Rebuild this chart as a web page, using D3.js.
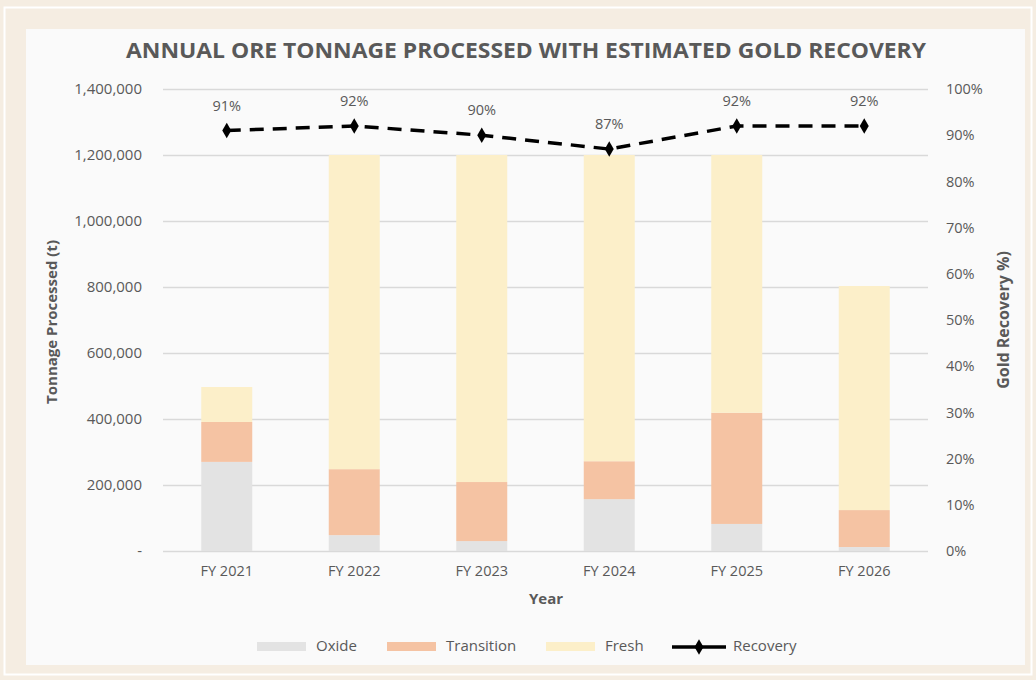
<!DOCTYPE html>
<html>
<head>
<meta charset="utf-8">
<script src="https://cdn.jsdelivr.net/npm/d3@7"></script>
<style>
  body { margin: 0; background: #f5ede2; }
  svg { display: block; font-family: "Open Sans", sans-serif; }
</style>
</head>
<body>
<svg id="chart" width="1036" height="680"></svg>
<script>
var years = ['FY 2021', 'FY 2022', 'FY 2023', 'FY 2024', 'FY 2025', 'FY 2026'];
var oxide = [270000, 48000, 30000, 157000, 82000, 12000];
var transition = [121000, 200000, 179000, 115000, 337000, 112000];
var fresh = [106000, 952000, 991000, 928000, 781000, 679000];
var recovery = [0.91, 0.92, 0.90, 0.87, 0.92, 0.92];
var seriesNames = ['Oxide', 'Transition', 'Fresh'];
var tonTicks = [0, 200000, 400000, 600000, 800000, 1000000, 1200000, 1400000];
var pctTicks = [0, 0.1, 0.2, 0.3, 0.4, 0.5, 0.6, 0.7, 0.8, 0.9, 1];

var svg = d3.select('#chart');
var textCol = '#595959';

var color = d3.scaleOrdinal()
    .domain(seriesNames)
    .range(['#e3e3e3', '#f5c3a3', '#fcefc9']);

// frame
svg.append('rect')
    .attr('width', 1036).attr('height', 680)
    .style('fill', '#f5ede2');
svg.append('rect')
    .attr('x', 4.5).attr('y', 7.5).attr('width', 1027).attr('height', 667)
    .style('fill', 'none').style('stroke', '#ffffff').style('stroke-width', 2);
svg.append('rect')
    .attr('x', 26).attr('y', 29).attr('width', 999).attr('height', 636)
    .style('fill', '#fafafa');

var x = d3.scaleBand()
    .domain(years)
    .range([163, 928])
    .paddingInner(0.6)
    .paddingOuter(0.3);

var y = d3.scaleLinear().domain([0, 1400000]).range([551, 89]);
var y2 = d3.scaleLinear().domain([0, 1]).range([551, 89]);

// grid
svg.append('g')
    .selectAll('line')
    .data(tonTicks)
    .enter().append('line')
    .attr('x1', 163).attr('x2', 928)
    .attr('y1', function(d) { return y(d) + 0.5; })
    .attr('y2', function(d) { return y(d) + 0.5; })
    .style('stroke', '#d9d9d9')
    .style('stroke-width', 1.5);

// stacked bars
var table = years.map(function(yr, i) {
    return { year: yr, Oxide: oxide[i], Transition: transition[i], Fresh: fresh[i] };
});
var stack = d3.stack().keys(seriesNames)(table);

svg.append('g')
    .selectAll('g')
    .data(stack)
    .enter().append('g')
    .style('fill', function(d) { return color(d.key); })
    .selectAll('rect')
    .data(function(d) { return d; })
    .enter().append('rect')
    .attr('x', function(d) { return x(d.data.year); })
    .attr('width', x.bandwidth())
    .attr('y', function(d) { return y(d[1]); })
    .attr('height', function(d) { return y(d[0]) - y(d[1]); });

// left axis
var fmt = d3.format(',');
var leftAxis = d3.axisLeft(y)
    .tickValues(tonTicks)
    .tickSize(0)
    .tickPadding(0)
    .tickFormat(function(d) { return d === 0 ? '-' : fmt(d); });
var gl = svg.append('g').attr('transform', 'translate(142,0)').call(leftAxis);
gl.select('.domain').remove();
gl.selectAll('text')
    .style('font-family', '"Open Sans", sans-serif')
    .style('font-size', '15px')
    .style('fill', textCol);

// right axis
var rightAxis = d3.axisRight(y2)
    .tickValues(pctTicks)
    .tickSize(0)
    .tickPadding(0)
    .tickFormat(d3.format('.0%'));
var gr = svg.append('g').attr('transform', 'translate(946,0)').call(rightAxis);
gr.select('.domain').remove();
gr.selectAll('text')
    .style('font-family', '"Open Sans", sans-serif')
    .style('font-size', '14.5px')
    .style('fill', textCol);

// x axis
var bottomAxis = d3.axisBottom(x).tickSize(0).tickPadding(0);
var gb = svg.append('g').attr('transform', 'translate(0,566)').call(bottomAxis);
gb.select('.domain').remove();
gb.selectAll('text')
    .style('font-family', '"Open Sans", sans-serif')
    .style('font-size', '14.5px')
    .style('fill', textCol);

// recovery line
var line = d3.line()
    .x(function(d, i) { return x(years[i]) + x.bandwidth() / 2; })
    .y(function(d) { return y2(d); });

svg.append('path')
    .datum(recovery)
    .attr('d', line)
    .style('fill', 'none')
    .style('stroke', '#000')
    .style('stroke-width', 3.5)
    .style('stroke-dasharray', '14,9');

svg.append('g')
    .selectAll('path')
    .data(recovery)
    .enter().append('path')
    .attr('transform', function(d, i) {
        return 'translate(' + (x(years[i]) + x.bandwidth() / 2) + ',' + y2(d) + ')';
    })
    .attr('d', d3.symbol().type(d3.symbolDiamond).size(70))
    .style('fill', '#000');

svg.append('g')
    .selectAll('text')
    .data(recovery)
    .enter().append('text')
    .attr('x', function(d, i) { return x(years[i]) + x.bandwidth() / 2; })
    .attr('y', function(d) { return y2(d) - 20; })
    .attr('text-anchor', 'middle')
    .style('font-size', '14.5px')
    .style('fill', textCol)
    .text(d3.format('.0%'));

// titles
svg.append('text')
    .attr('x', 526).attr('y', 58)
    .attr('text-anchor', 'middle')
    .attr('textLength', 800)
    .attr('lengthAdjust', 'spacingAndGlyphs')
    .style('font-size', '22px')
    .style('font-weight', 'bold')
    .style('fill', textCol)
    .text('ANNUAL ORE TONNAGE PROCESSED WITH ESTIMATED GOLD RECOVERY');

svg.append('text')
    .attr('transform', 'translate(57,322) rotate(-90)')
    .attr('text-anchor', 'middle')
    .style('font-size', '15px')
    .style('font-weight', 'bold')
    .style('fill', textCol)
    .text('Tonnage Processed (t)');

svg.append('text')
    .attr('transform', 'translate(1009,320) rotate(-90)')
    .attr('text-anchor', 'middle')
    .style('font-size', '16px')
    .style('font-weight', 'bold')
    .style('fill', textCol)
    .text('Gold Recovery %)');

svg.append('text')
    .attr('x', 546).attr('y', 604)
    .attr('text-anchor', 'middle')
    .style('font-size', '15px')
    .style('font-weight', 'bold')
    .style('fill', textCol)
    .text('Year');

// legend
var legendX = [257, 387, 546];
seriesNames.forEach(function(name, i) {
    svg.append('rect')
        .attr('x', legendX[i]).attr('y', 642)
        .attr('width', 49).attr('height', 9)
        .style('fill', color(name));
    svg.append('text')
        .attr('x', legendX[i] + 59).attr('y', 647)
        .attr('dominant-baseline', 'middle')
        .style('font-size', '15px')
        .style('fill', textCol)
        .text(name);
});
svg.append('line')
    .attr('x1', 672).attr('x2', 726)
    .attr('y1', 647).attr('y2', 647)
    .style('stroke', '#000')
    .style('stroke-width', 3.5);
svg.append('path')
    .attr('transform', 'translate(699,647)')
    .attr('d', d3.symbol().type(d3.symbolDiamond).size(70))
    .style('fill', '#000');
svg.append('text')
    .attr('x', 733).attr('y', 647)
    .attr('dominant-baseline', 'middle')
    .style('font-size', '15px')
    .style('fill', textCol)
    .text('Recovery');
</script>
</body>
</html>
